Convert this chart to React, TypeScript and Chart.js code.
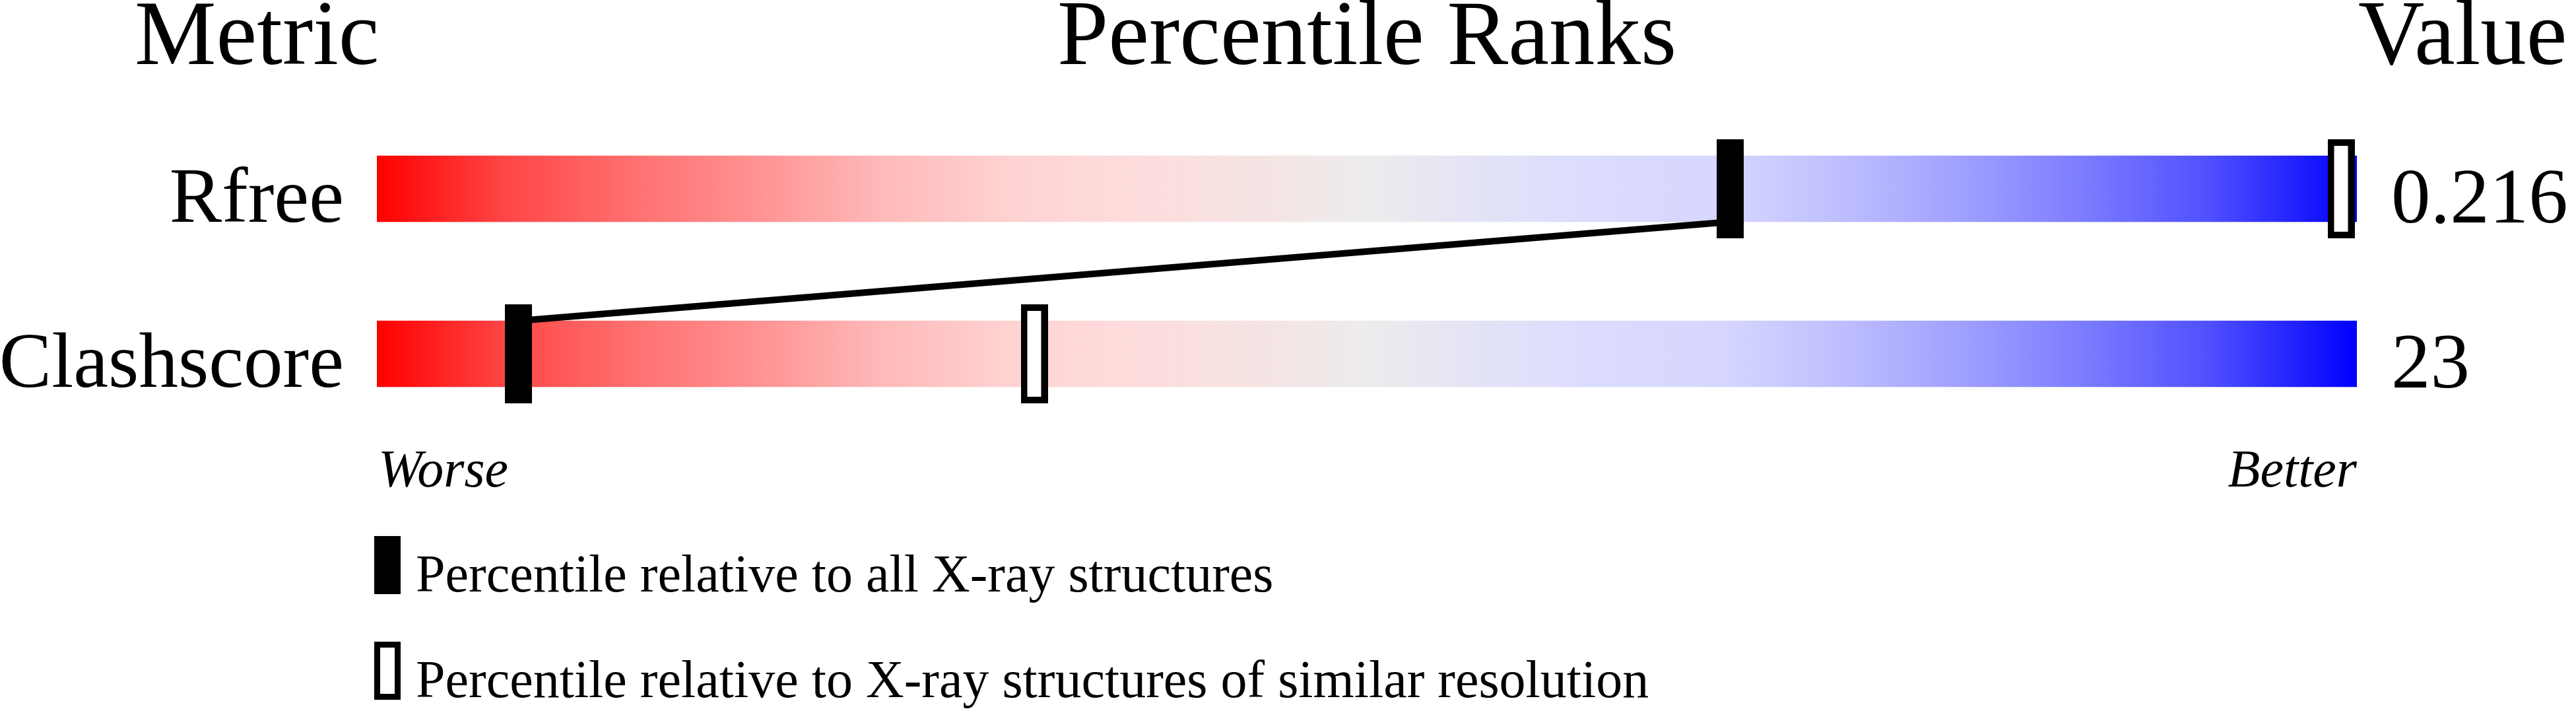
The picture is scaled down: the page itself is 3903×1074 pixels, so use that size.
import React, { useEffect, useRef } from 'react';
import { Chart, registerables } from 'chart.js';

Chart.register(...registerables);

// ---- data ----
const metrics = ['Rfree', 'Clashscore'];
const metricValues = ['0.216', '23'];
const percentileAll = [68.35, 7.15];
const percentileSimilar = [99.2, 33.2];
const headers = ['Metric', 'Percentile Ranks', 'Value'];
const scaleEnds = ['Worse', 'Better'];
const legendLabels = [
  'Percentile relative to all X-ray structures',
  'Percentile relative to X-ray structures of similar resolution',
];
const percentileRange = [0, 100];

// ---- layout / style constants ----
const W = 3903;
const H = 1074;
const BAR_PX = 100;
const ROW_PX = 250;
const BAR_HALF_UNITS = BAR_PX / 2 / ROW_PX;
const SERIF = '"Liberation Serif", "Times New Roman", serif';

const gradientStops: [number, string][] = [
  [0, 'rgb(255,0,0)'],
  [0.065, 'rgb(255,70,70)'],
  [0.13, 'rgb(255,112,112)'],
  [0.19, 'rgb(255,145,145)'],
  [0.255, 'rgb(255,185,185)'],
  [0.32, 'rgb(255,210,210)'],
  [0.38, 'rgb(254,220,220)'],
  [0.45, 'rgb(245,228,228)'],
  [0.5, 'rgb(237,236,236)'],
  [0.55, 'rgb(228,228,245)'],
  [0.61, 'rgb(220,220,255)'],
  [0.68, 'rgb(214,214,255)'],
  [0.74, 'rgb(190,190,255)'],
  [0.8, 'rgb(160,160,255)'],
  [0.86, 'rgb(125,125,255)'],
  [0.925, 'rgb(80,80,255)'],
  [1, 'rgb(0,0,255)'],
];

function makeMarker(filled: boolean, w = 41, h = 150, border = 10): HTMLCanvasElement {
  const c = document.createElement('canvas');
  c.width = w;
  c.height = h;
  const g = c.getContext('2d')!;
  g.fillStyle = '#000';
  g.fillRect(0, 0, w, h);
  if (!filled) {
    g.fillStyle = '#fff';
    g.fillRect(border, border, w - 2 * border, h - 2 * border);
  }
  return c;
}

const textPlugin = {
  id: 'sliderTexts',
  afterDraw(chart: any) {
    const { ctx, chartArea, scales } = chart;
    const xs = scales.x;
    const ys = scales.y;
    const x0 = xs.getPixelForValue(percentileRange[0]);
    const x1 = xs.getPixelForValue(percentileRange[1]);
    ctx.save();
    ctx.fillStyle = '#000';
    ctx.textBaseline = 'alphabetic';

    // headers
    ctx.font = `139px ${SERIF}`;
    ctx.textAlign = 'left';
    ctx.fillText(headers[0], 204, 97);
    ctx.textAlign = 'center';
    ctx.fillText(headers[1], (x0 + x1) / 2, 97);
    ctx.textAlign = 'left';
    ctx.fillText(headers[2], x1 + 2, 97);

    // row labels & values
    ctx.font = `119px ${SERIF}`;
    metrics.forEach((m, i) => {
      const yb = ys.getPixelForValue(i) + BAR_PX / 2;
      ctx.textAlign = 'right';
      ctx.fillText(m, chartArea.left - 50, yb);
      ctx.textAlign = 'left';
      ctx.fillText(metricValues[i], chartArea.right + 52, yb + 1);
    });

    // worse / better
    ctx.font = `italic 80px ${SERIF}`;
    ctx.textAlign = 'left';
    ctx.fillText(scaleEnds[0], x0 + 2, 737);
    ctx.textAlign = 'right';
    ctx.fillText(scaleEnds[1], x1, 737);

    // legend
    const lx = 567;
    ctx.fillStyle = '#000';
    ctx.fillRect(lx, 812, 40, 88);
    ctx.fillRect(lx, 972, 40, 88);
    ctx.fillStyle = '#fff';
    ctx.fillRect(lx + 9, 972 + 9, 40 - 18, 88 - 18);
    ctx.fillStyle = '#000';
    ctx.font = `80px ${SERIF}`;
    ctx.textAlign = 'left';
    ctx.fillText(legendLabels[0], 630, 896);
    ctx.fillText(legendLabels[1], 630, 1056);
    ctx.restore();
  },
};

export default function App() {
  const ref = useRef<HTMLCanvasElement | null>(null);

  useEffect(() => {
    document.body.style.margin = '0';
    const canvas = ref.current;
    if (!canvas) return;

    const filledMarker = makeMarker(true);
    const openMarker = makeMarker(false);

    const chart = new Chart(canvas, {
      type: 'scatter',
      data: {
        datasets: [
          {
            type: 'bar',
            indexAxis: 'y',
            order: 4,
            data: metrics.map((_, i) => ({ x: [percentileRange[0], percentileRange[1]], y: i })),
            barThickness: BAR_PX,
            borderWidth: 0,
            backgroundColor: (ctx: any) => {
              const ch = ctx.chart;
              if (!ch.chartArea) return 'rgba(0,0,0,0)';
              const xs = ch.scales.x;
              const gx0 = xs.getPixelForValue(percentileRange[0]);
              const gx1 = xs.getPixelForValue(percentileRange[1]);
              const g = ch.ctx.createLinearGradient(gx0, 0, gx1, 0);
              gradientStops.forEach(([p, c]) => g.addColorStop(p, c));
              return g;
            },
          } as any,
          {
            type: 'line',
            order: 3,
            data: [
              { x: percentileAll[0], y: 0 + BAR_HALF_UNITS },
              { x: percentileAll[1], y: 1 - BAR_HALF_UNITS },
            ],
            borderColor: '#000',
            borderWidth: 10,
            pointRadius: 0,
            fill: false,
            tension: 0,
          } as any,
          {
            type: 'scatter',
            order: 2,
            data: metrics.map((_, i) => ({ x: percentileSimilar[i], y: i })),
            pointStyle: openMarker,
            pointRadius: 5,
          } as any,
          {
            type: 'scatter',
            order: 1,
            data: metrics.map((_, i) => ({ x: percentileAll[i], y: i })),
            pointStyle: filledMarker,
            pointRadius: 5,
          } as any,
        ],
      },
      options: {
        animation: false,
        responsive: false,
        devicePixelRatio: 1,
        layout: { padding: { left: 571, right: W - 3571, top: 161, bottom: H - 661 } },
        scales: {
          x: { type: 'linear', min: percentileRange[0], max: percentileRange[1], display: false, offset: false },
          y: { type: 'linear', min: -0.5, max: 1.5, reverse: true, display: false, offset: false },
        },
        plugins: {
          legend: { display: false },
          tooltip: { enabled: false },
        },
      } as any,
      plugins: [textPlugin],
    });

    return () => chart.destroy();
  }, []);

  return <canvas ref={ref} width={W} height={H} style={{ display: 'block', width: W, height: H }} />;
}
